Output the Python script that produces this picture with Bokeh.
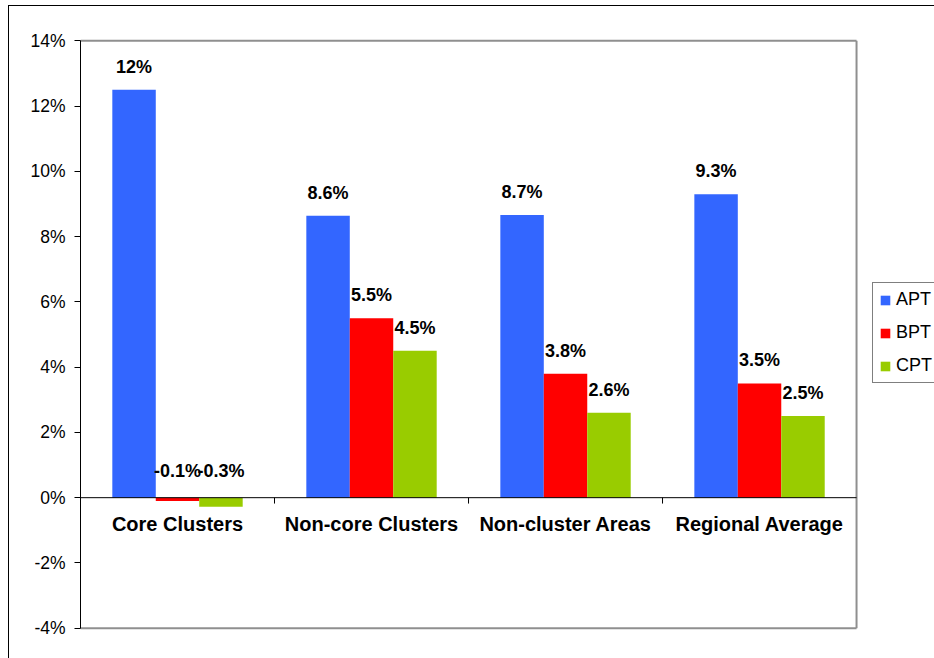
from bokeh.plotting import figure
from bokeh.models import (ColumnDataSource, Range1d, FixedTicker, PrintfTickFormatter,
                          Legend, LegendItem)
from bokeh.transform import dodge
from bokeh.core.properties import value
from bokeh.embed import file_html
from bokeh.resources import INLINE

categories = ["Core Clusters", "Non-core Clusters", "Non-cluster Areas", "Regional Average"]
series = ["APT", "BPT", "CPT"]
apt = [12.5, 8.64, 8.66, 9.3]
bpt = [-0.1, 5.5, 3.8, 3.5]
cpt = [-0.28, 4.5, 2.6, 2.5]
apt_labels = ["12%", "8.6%", "8.7%", "9.3%"]
bpt_labels = ["-0.1%", "5.5%", "3.8%", "3.5%"]
cpt_labels = ["-0.3%", "4.5%", "2.6%", "2.5%"]
y_ticks = [-4, -2, 0, 2, 4, 6, 8, 10, 12, 14]

colors = ["#3366FF", "#FF0000", "#99CC00"]
FONT = "Liberation Sans"
BW = 0.224
N = len(categories)
YMIN, YMAX = y_ticks[0], y_ticks[-1]
YPAD = 0.1
XEND = N + 0.407   # room right of the plot area for the legend

xc = [i + 0.5 for i in range(N)]
data = dict(cat=categories, xc=xc, zero=[0] * N)
for name, vals, labs in zip(series, [apt, bpt, cpt], [apt_labels, bpt_labels, cpt_labels]):
    data[name] = vals
    data[name + "_ly"] = [max(v, 0) for v in vals]
    data[name + "_off"] = [-23 if v >= 0 else -27 for v in vals]
    data[name + "_lbl"] = labs
src = ColumnDataSource(data)

p = figure(width=926, height=653, output_backend="svg", toolbar_location=None,
           x_range=Range1d(0, XEND), y_range=Range1d(YMIN - YPAD, YMAX + YPAD),
           min_border_left=71, min_border_right=0, min_border_top=31, min_border_bottom=28)
p.margin = (5, 0, 0, 8)
p.styles = {"border-left": "1px solid black", "border-top": "1px solid black"}
p.background_fill_color = "white"
p.border_fill_color = "white"
p.outline_line_color = None
p.xgrid.visible = False
p.ygrid.visible = False
p.xaxis.visible = False

ya = p.yaxis[0]
ya.ticker = FixedTicker(ticks=y_ticks, minor_ticks=[])
ya.bounds = (YMIN, YMAX)
ya.formatter = PrintfTickFormatter(format="%d%%")
ya.axis_line_color = "black"
ya.major_tick_line_color = "black"
ya.major_tick_out = 6
ya.major_tick_in = 0
ya.minor_tick_line_color = None
ya.major_label_standoff = 9
ya.major_label_text_font = FONT
ya.major_label_text_font_size = "17.5px"
ya.major_label_text_color = "black"

# plot-area border (top, right, bottom)
p.multi_line(xs=[[0, N], [N, N], [0, N]], ys=[[YMAX, YMAX], [YMAX, YMIN], [YMIN, YMIN]],
             line_color="#8f8f8f", line_width=2)

offsets = [-BW, 0, BW]
items = []
for name, off, col in zip(series, offsets, colors):
    r = p.vbar(x=dodge("xc", off), top=name, bottom=0, width=BW,
               source=src, fill_color=col, line_color=None)
    items.append(LegendItem(label=name, renderers=[r]))
    p.text(x=dodge("xc", off), y=name + "_ly", text=name + "_lbl",
           y_offset=name + "_off", source=src, text_align="center", text_baseline="alphabetic",
           text_font=value(FONT), text_font_style="bold", text_font_size="18px", text_color="black")

# zero line and category separators
p.segment(x0=[0], x1=[N], y0=[0], y1=[0], line_color="black", line_width=1)
bounds = list(range(1, N))
p.segment(x0=bounds, x1=bounds, y0=[0] * len(bounds), y1=[-0.18] * len(bounds),
          line_color="black", line_width=1)

p.text(x="xc", y="zero", text="cat", source=src,
       y_offset=26, text_align="center", text_baseline="alphabetic",
       text_font=value(FONT), text_font_style="bold", text_font_size="20px", text_color="black")

legend = Legend(items=items, location=(792, 248), border_line_color="black", border_line_width=1,
                background_fill_color="white", background_fill_alpha=1,
                glyph_width=12, glyph_height=12, label_standoff=5, padding=6, spacing=12,
                label_height=18, margin=0, label_text_font=FONT, label_text_font_size="18px",
                label_text_color="black")
p.add_layout(legend, "center")

open("out.html", "w").write(file_html(p, INLINE))
